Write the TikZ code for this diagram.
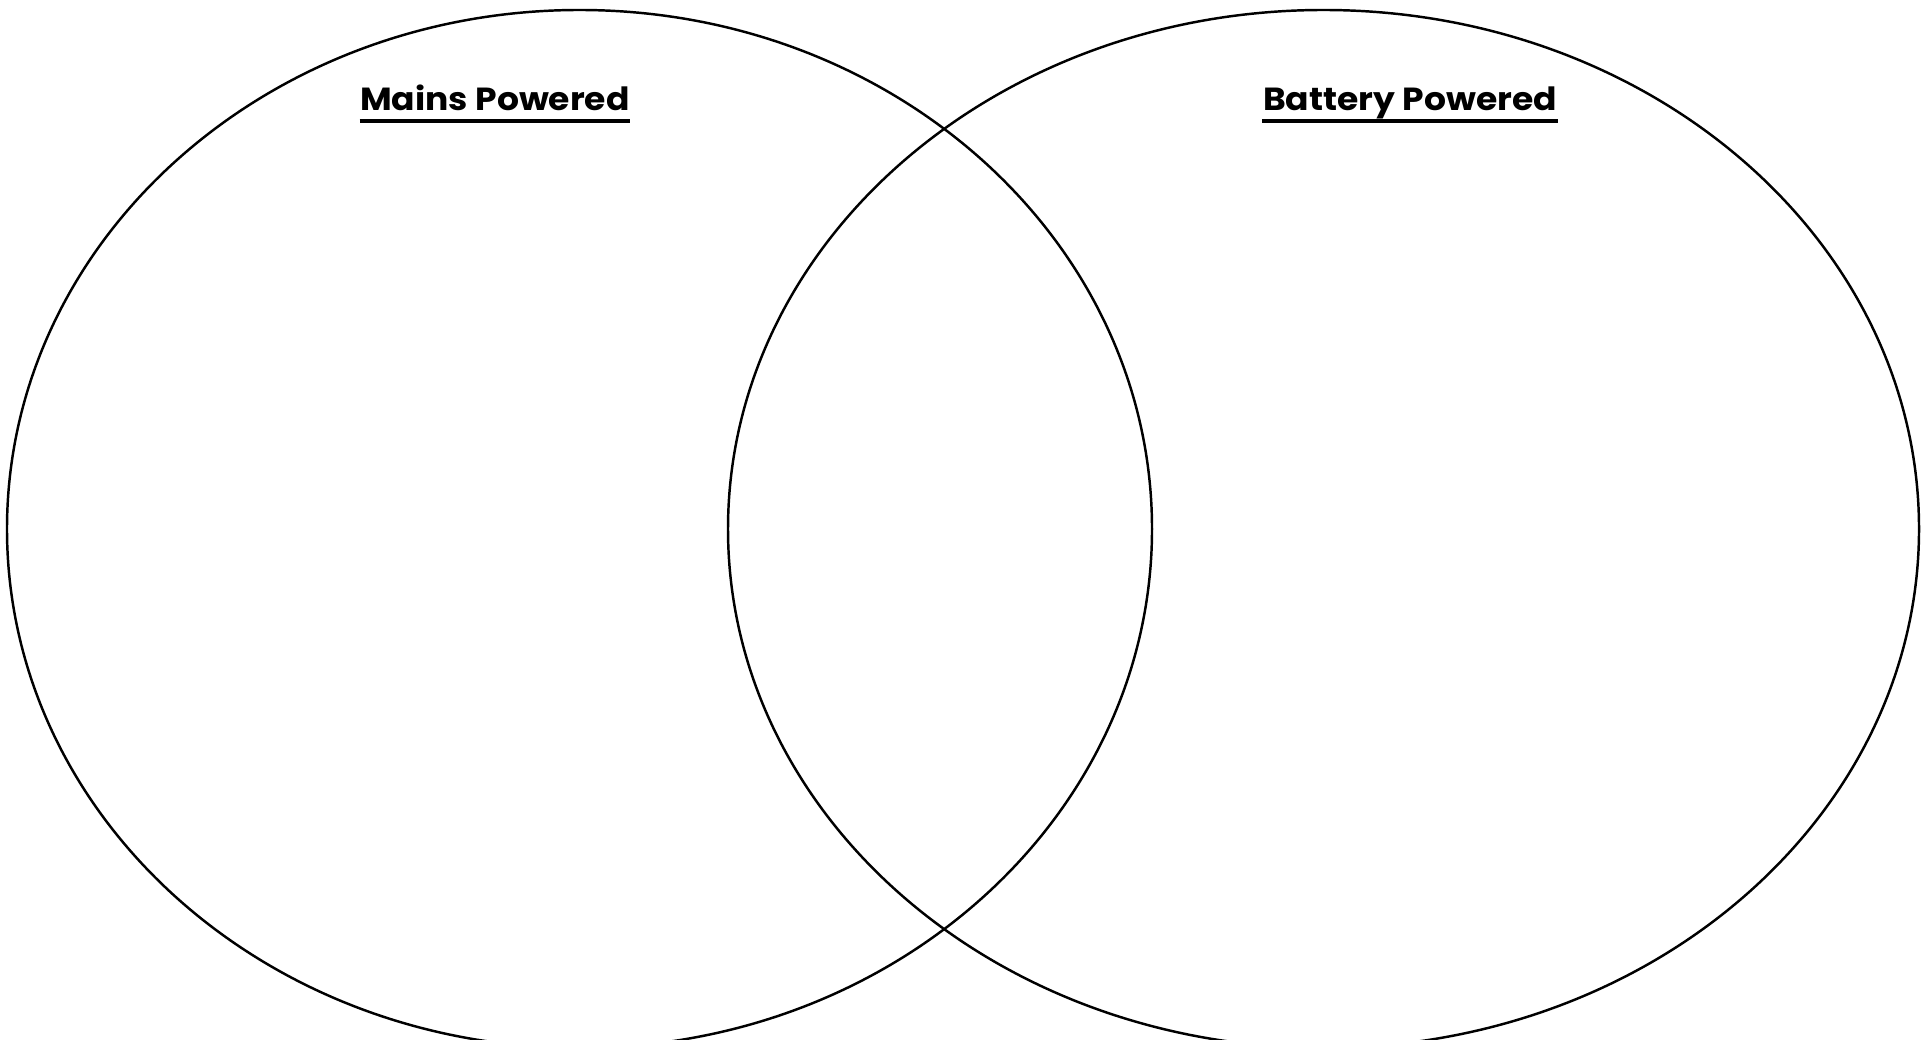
\documentclass[tikz,border=0pt]{standalone}
\usepackage{fontspec}
\setmainfont{Poppins}
\newfontfamily\headfont[FakeStretch=1.08]{Poppins}
\usetikzlibrary{shapes.geometric,calc}
\definecolor{Ink}{HTML}{000000}
\tikzset{
  setring/.style={ellipse,draw=Ink,line width=.7pt,inner sep=0pt,minimum height=10.38cm},
  heading/.style={anchor=base,inner sep=0pt,font=\headfont\fontsize{9.1}{11}\selectfont\bfseries},
  rule/.style={draw=Ink,line width=.9pt}
}
\begin{document}
\begin{tikzpicture}
    \useasboundingbox (0,0) rectangle (19.29,-10.40);
    \clip (0,0) rectangle (19.29,-10.40);
    \node[setring,minimum width=11.45cm] (mains) at (5.795,-5.29) {};
    \node[setring,minimum width=11.91cm] (battery) at (13.235,-5.29) {};

    \node[heading] (mainstitle) at (4.95,-1.11) {Mains Powered};
    \node[heading] (batterytitle) at (14.10,-1.11) {Battery Powered};
    \draw[rule] ($(mainstitle.base west)+(0,-.10)$) -- ($(mainstitle.base east)+(0,-.10)$);
    \draw[rule] ($(batterytitle.base west)+(0,-.10)$) -- ($(batterytitle.base east)+(0,-.10)$);
  \end{tikzpicture}
\end{document}
